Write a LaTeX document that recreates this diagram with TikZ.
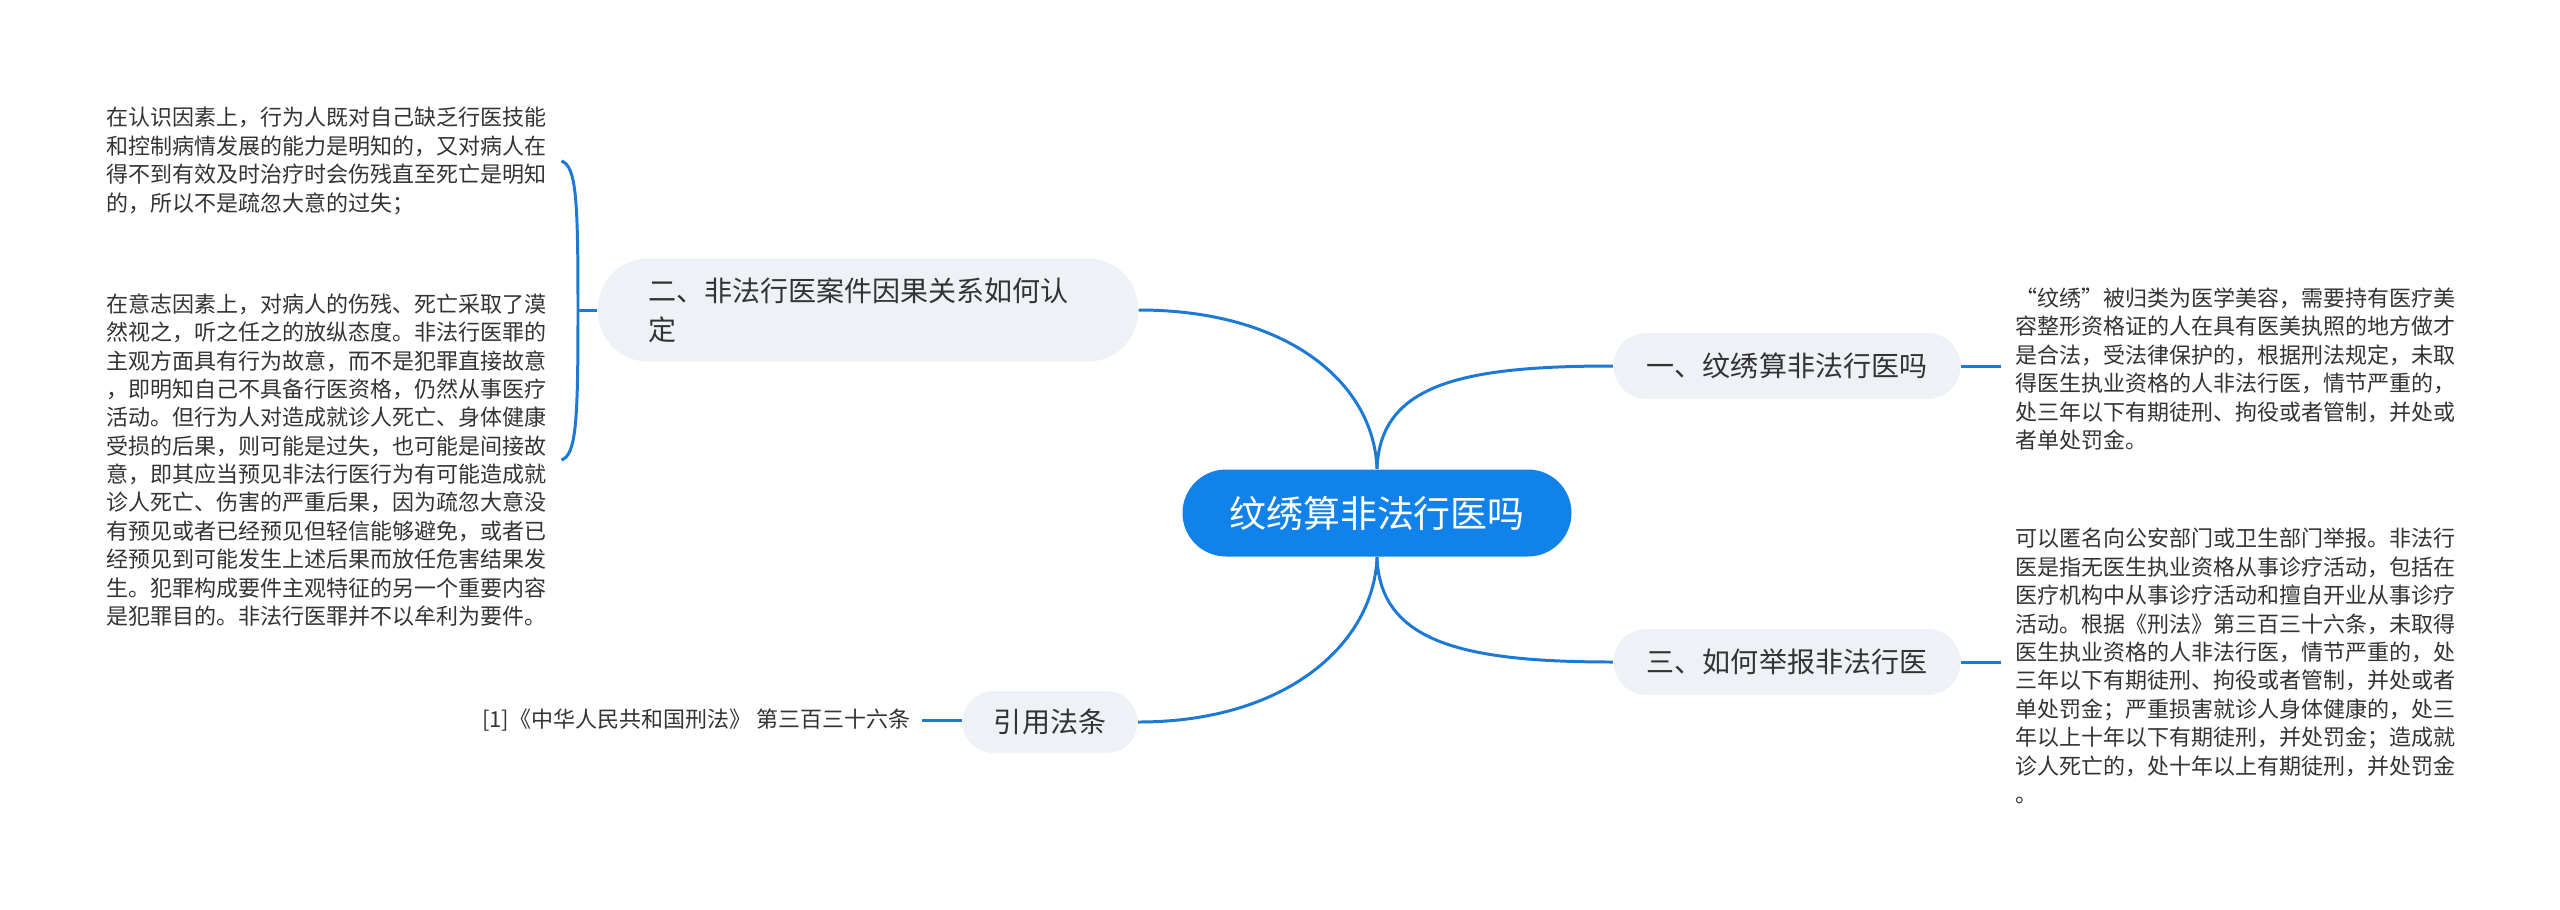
\documentclass[tikz,border=0pt]{standalone}
\usepackage{fontspec}
\setmainfont{Noto Sans CJK SC}
\usepackage{xcolor}
\usepackage{tikz}

\definecolor{rootblue}{RGB}{16,130,233}
\definecolor{linkblue}{RGB}{28,121,214}
\definecolor{boxgray}{RGB}{238,241,245}
\definecolor{inkgray}{RGB}{51,51,51}

\begin{document}
\begin{tikzpicture}[
    root/.style={rectangle, rounded corners=0.435cm, fill=rootblue, text=white, inner sep=0pt,
        minimum width=3.89cm, minimum height=0.87cm, font=\fontsize{10.5pt}{12pt}\selectfont},
    branch/.style={rectangle, rounded corners=0.33cm, fill=boxgray, text=inkgray, inner sep=0pt,
        minimum height=0.66cm, font=\fontsize{7.97pt}{11.1pt}\selectfont},
    leaf/.style={text=inkgray, align=left, inner xsep=0.14cm, inner ysep=0pt,
        font=\fontsize{6.26pt}{8.08pt}\selectfont},
    link/.style={linkblue, line width=0.85pt}]
    \useasboundingbox (0,0) rectangle (25.60,-9.09);

    \node[root] (root) at (13.77,-5.13) {纹绣算非法行医吗};

    \node[branch, minimum width=3.47cm] (one) at (17.87,-3.66) {一、纹绣算非法行医吗};
    \node[branch, minimum width=3.47cm] (three) at (17.87,-6.62) {三、如何举报非法行医};
    \node[branch, minimum width=5.40cm, minimum height=1.03cm, rounded corners=0.5cm,
        align=left, text width=4.40cm] (two) at (8.68,-3.10) {二、非法行医案件因果关系如何认\\定};
    \node[branch, minimum width=1.75cm, minimum height=0.62cm, rounded corners=0.31cm] (cite) at (10.50,-7.22) {引用法条};

    \node[leaf, anchor=west] (cognition) at (0.92,-1.61) {在认识因素上，行为人既对自己缺乏行医技能\\
        和控制病情发展的能力是明知的，又对病人在\\
        得不到有效及时治疗时会伤残直至死亡是明知\\
        的，所以不是疏忽大意的过失；};
    \node[leaf, anchor=west] (volition) at (0.92,-4.60) {在意志因素上，对病人的伤残、死亡采取了漠\\
        然视之，听之任之的放纵态度。非法行医罪的\\
        主观方面具有行为故意，而不是犯罪直接故意\\
        ，即明知自己不具备行医资格，仍然从事医疗\\
        活动。但行为人对造成就诊人死亡、身体健康\\
        受损的后果，则可能是过失，也可能是间接故\\
        意，即其应当预见非法行医行为有可能造成就\\
        诊人死亡、伤害的严重后果，因为疏忽大意没\\
        有预见或者已经预见但轻信能够避免，或者已\\
        经预见到可能发生上述后果而放任危害结果发\\
        生。犯罪构成要件主观特征的另一个重要内容\\
        是犯罪目的。非法行医罪并不以牟利为要件。};
    \node[leaf, anchor=west] (tattoo) at (20.01,-3.69) {“纹绣”被归类为医学美容，需要持有医疗美\\
        容整形资格证的人在具有医美执照的地方做才\\
        是合法，受法律保护的，根据刑法规定，未取\\
        得医生执业资格的人非法行医，情节严重的，\\
        处三年以下有期徒刑、拘役或者管制，并处或\\
        者单处罚金。};
    \node[leaf, anchor=west] (report) at (20.01,-6.66) {可以匿名向公安部门或卫生部门举报。非法行\\
        医是指无医生执业资格从事诊疗活动，包括在\\
        医疗机构中从事诊疗活动和擅自开业从事诊疗\\
        活动。根据《刑法》第三百三十六条，未取得\\
        医生执业资格的人非法行医，情节严重的，处\\
        三年以下有期徒刑、拘役或者管制，并处或者\\
        单处罚金；严重损害就诊人身体健康的，处三\\
        年以上十年以下有期徒刑，并处罚金；造成就\\
        诊人死亡的，处十年以上有期徒刑，并处罚金\\
        。};
    \node[leaf, anchor=east, inner xsep=0.11cm] (law) at (9.22,-7.20) {[1]《中华人民共和国刑法》 第三百三十六条};

    % main links
    \draw[link] (root.north) .. controls +(0.03,0.85) and +(-1.5,0) .. (one.west);
    \draw[link] (root.north) .. controls +(-0.03,0.85) and +(1.5,0) .. (two.east);
    \draw[link] (root.south) .. controls +(0.03,-0.85) and +(-1.5,0) .. (three.west);
    \draw[link] (root.south) .. controls +(-0.03,-0.85) and +(1.5,0) .. (cite.east);

    % leaf links
    \draw[link] (one.east) -- (one.east -| tattoo.west);
    \draw[link] (three.east) -- (three.east -| report.west);
    \draw[link] (law.east) -- (law.east -| cite.west);

    \coordinate (fork) at (5.78,-3.10);
    \draw[link] (two.west) -- (fork);
    \draw[link] (fork) .. controls +(0,1.1) and +(0.15,-0.05) .. (cognition.east);
    \draw[link] (fork) .. controls +(0,-1.1) and +(0.15,0.05) .. (volition.east);
\end{tikzpicture}
\end{document}
